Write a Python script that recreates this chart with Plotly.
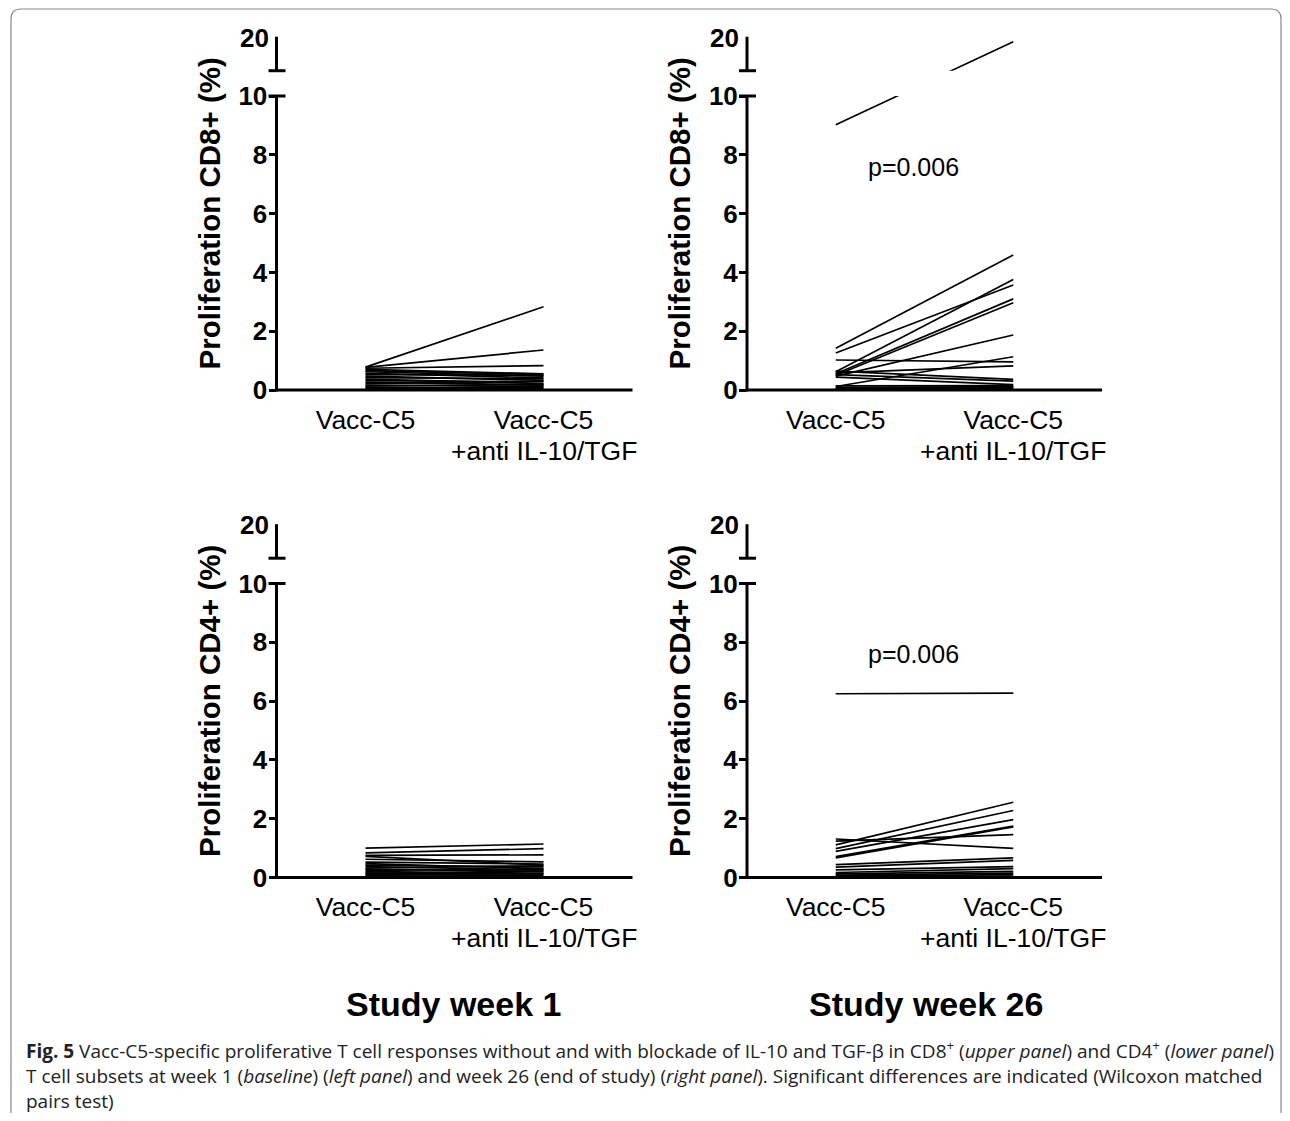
import plotly.graph_objects as go

# ---------------- data ----------------
categories = ["Vacc-C5", "Vacc-C5"]
category_sublabel = "+anti IL-10/TGF"
cat_x = [1, 2]
y_tick_vals = [0, 2, 4, 6, 8, 10]
y_tick_text = ["0", "2", "4", "6", "8", "10"]
upper_top_value = 20
break_value = 10

cd8_w1_pre = [0.78, 0.77, 0.74, 0.70, 0.66, 0.62, 0.57, 0.52, 0.47, 0.42, 0.37, 0.32, 0.27, 0.22, 0.17, 0.13, 0.09, 0.06, 0.03]
cd8_w1_post = [2.83, 1.36, 0.83, 0.55, 0.52, 0.47, 0.41, 0.50, 0.33, 0.38, 0.22, 0.28, 0.17, 0.30, 0.12, 0.20, 0.08, 0.05, 0.14]

cd8_w26_pre = [9.02, 1.42, 1.26, 1.02, 0.62, 0.55, 0.50, 0.47, 0.58, 0.64, 0.52, 0.44, 0.12, 0.14, 0.09, 0.06, 0.04, 0.03, 0.02]
cd8_w26_post = [18.5, 4.59, 3.57, 0.96, 3.76, 3.10, 2.97, 1.87, 0.82, 0.36, 0.30, 0.18, 1.13, 0.15, 0.10, 0.12, 0.05, 0.08, 0.03]

cd4_w1_pre = [1.00, 0.84, 0.75, 0.72, 0.62, 0.52, 0.47, 0.42, 0.37, 0.32, 0.28, 0.24, 0.20, 0.16, 0.12, 0.10, 0.07]
cd4_w1_post = [1.14, 0.98, 0.77, 0.42, 0.53, 0.46, 0.30, 0.36, 0.26, 0.40, 0.21, 0.29, 0.15, 0.11, 0.23, 0.06, 0.13]

cd4_w26_pre = [6.25, 1.31, 1.24, 1.11, 0.98, 0.89, 0.71, 0.67, 0.44, 0.35, 0.26, 0.17, 0.12, 0.08, 0.05, 0.03]
cd4_w26_post = [6.27, 0.99, 1.46, 2.56, 2.28, 1.97, 1.75, 1.72, 0.67, 0.58, 0.37, 0.30, 0.21, 0.15, 0.10, 0.05]

p_values = ["", "p=0.006", "", "p=0.006"]
y_titles = ["Proliferation CD8+ (%)", "Proliferation CD4+ (%)"]
col_titles = ["Study week 1", "Study week 26"]

# ---------------- broken axis transform ----------------
GAP = 0.86            # display units between the two axis segments
UPPER_SCALE = 0.1157  # display units per data unit above the break


def disp(v):
    if v <= break_value:
        return v
    return break_value + GAP + (v - break_value) * UPPER_SCALE


D_TOP = disp(upper_top_value)
D_BREAK = break_value + GAP

# page has an 8px body margin on every side; keep the figure inside the viewport
OFF = 8
W, H = 1290 - 2 * OFF, 1121 - 2 * OFF


def fx(px):
    return (px - OFF) / W


def fy(py):
    return 1 - (py - OFF) / H


# panel pixel geometry (page coordinates)
col_px = [(276.5, 632.5), (747.0, 1102.0)]
row_px = [(390.0, 390.0 - 29.4 * D_TOP), (877.5, 877.5 - 29.4 * D_TOP)]
sublabel_py = [451, 938]

panels = [
    (0, 0, cd8_w1_pre, cd8_w1_post),
    (0, 1, cd8_w26_pre, cd8_w26_post),
    (1, 0, cd4_w1_pre, cd4_w1_post),
    (1, 1, cd4_w26_pre, cd4_w26_post),
]

FONT = "Liberation Sans, Arial, sans-serif"
fig = go.Figure()
layout = dict(
    width=W, height=H, margin=dict(l=0, r=0, t=0, b=0),
    paper_bgcolor="white", plot_bgcolor="white", showlegend=False,
    font=dict(family=FONT, color="black"),
)
shapes = []
annotations = []

for i, (r, c, pre, post) in enumerate(panels):
    n = "" if i == 0 else str(i + 1)
    xs, ys = [], []
    for a, b in zip(pre, post):
        xs += [cat_x[0], cat_x[1], None]
        ys += [disp(a), disp(b), None]
    fig.add_trace(go.Scatter(x=xs, y=ys, mode="lines", xaxis="x" + n, yaxis="y" + n,
                             line=dict(color="black", width=1.7), hoverinfo="skip"))
    x0, x1 = col_px[c]
    yb, yt = row_px[r]
    layout["xaxis" + n] = dict(
        domain=[fx(x0), fx(x1)], range=[0.5, 2.5], anchor="y" + n,
        tickvals=cat_x, ticktext=categories, ticks="", showline=False,
        showgrid=False, zeroline=False, ticklabelstandoff=11, automargin=False,
        tickfont=dict(family=FONT, size=26.5, color="black"),
    )
    ytitle = dict(text="<b>" + y_titles[r] + "</b>", font=dict(family=FONT, size=29.5, color="black"),
                  standoff=9)
    layout["yaxis" + n] = dict(
        domain=[fy(yb), fy(yt)], range=[0, D_TOP], anchor="x" + n,
        tickvals=y_tick_vals, ticktext=y_tick_text, ticks="outside", ticklen=7,
        tickwidth=3, tickcolor="black", showline=False, showgrid=False, zeroline=False,
        ticklabelstandoff=-4, automargin=False,
        tickfont=dict(family=FONT, size=26, color="black", weight="bold"),
        title=ytitle,
    )

    def py(d):
        return fy(yb - (yb - yt) * d / D_TOP)

    # mask the break gap
    shapes.append(dict(type="rect", xref="paper", yref="paper", x0=fx(x0) + 0.002, x1=fx(x1),
                       y0=py(break_value), y1=py(D_BREAK), fillcolor="white",
                       line=dict(width=0), layer="above"))
    line = dict(color="black", width=3)
    # y axis segments
    shapes.append(dict(type="line", xref="paper", yref="paper", x0=fx(x0), x1=fx(x0),
                       y0=py(0) - 1.5 / H, y1=py(break_value), line=line, layer="above"))
    shapes.append(dict(type="line", xref="paper", yref="paper", x0=fx(x0), x1=fx(x0),
                       y0=py(D_BREAK), y1=py(D_TOP), line=line, layer="above"))
    # break marks
    for d in (break_value, D_BREAK):
        shapes.append(dict(type="line", xref="paper", yref="paper", x0=fx(x0 - 8), x1=fx(x0 + 9),
                           y0=py(d), y1=py(d), line=line, layer="above"))
    # x axis line
    shapes.append(dict(type="line", xref="paper", yref="paper", x0=fx(x0 - 1.5), x1=fx(x1),
                       y0=py(0), y1=py(0), line=line, layer="above"))
    # upper label
    annotations.append(dict(xref="paper", yref="paper", x=fx(x0 - 6), y=py(D_TOP) - 1 / H,
                            xanchor="right", yanchor="middle", showarrow=False,
                            text="<b>%d</b>" % upper_top_value,
                            font=dict(family=FONT, size=26, color="black")))
    # second line of the treatment category label
    annotations.append(dict(xref="x" + n, yref="paper", x=cat_x[1], y=fy(sublabel_py[r]),
                            xanchor="center", yanchor="middle", showarrow=False,
                            text=category_sublabel,
                            font=dict(family=FONT, size=26.5, color="black")))
    if p_values[i]:
        annotations.append(dict(xref="x" + n, yref="y" + n, x=1.44, y=7.6, showarrow=False,
                                text=p_values[i], xanchor="center", yanchor="middle",
                                font=dict(family=FONT, size=25, color="black")))

# column titles
for c, t in enumerate(col_titles):
    cx = [453, 926][c]
    annotations.append(dict(xref="paper", yref="paper", x=fx(cx), y=fy(1004), showarrow=False,
                            text="<b>" + t + "</b>", xanchor="center", yanchor="middle",
                            font=dict(family=FONT, size=34, color="black")))

# caption
caption_lines = [
    "<b>Fig. 5</b> Vacc-C5-specific proliferative T cell responses without and with blockade of IL-10 and TGF-β in CD8<sup>+</sup> (<i>upper panel</i>) and CD4<sup>+</sup> (<i>lower panel</i>)",
    "T cell subsets at week 1 (<i>baseline</i>) (<i>left panel</i>) and week 26 (end of study) (<i>right panel</i>). Significant differences are indicated (Wilcoxon matched",
    "pairs test)",
]
for k, t in enumerate(caption_lines):
    annotations.append(dict(xref="paper", yref="paper", x=fx(24), y=fy(1050 + 25.5 * k), showarrow=False,
                            text=t, xanchor="left", yanchor="middle",
                            font=dict(family="Open Sans, sans-serif", size=19, color="#222")))

# rounded frame
rad = 10
fl, ft, fr, fb = 11, 9, 1281, 1160
path = ("M {a},{b} L {a},{c} Q {a},{d} {e},{d} L {f},{d} Q {g},{d} {g},{c} L {g},{b}").format(
    a=fx(fl), b=fy(fb), c=fy(ft + rad), d=fy(ft), e=fx(fl + rad), f=fx(fr - rad), g=fx(fr))
shapes.append(dict(type="path", xref="paper", yref="paper", path=path,
                   line=dict(color="#888888", width=1.2)))

layout["shapes"] = shapes
layout["annotations"] = annotations
fig.update_layout(**layout)
fig.write_html("out.html")
